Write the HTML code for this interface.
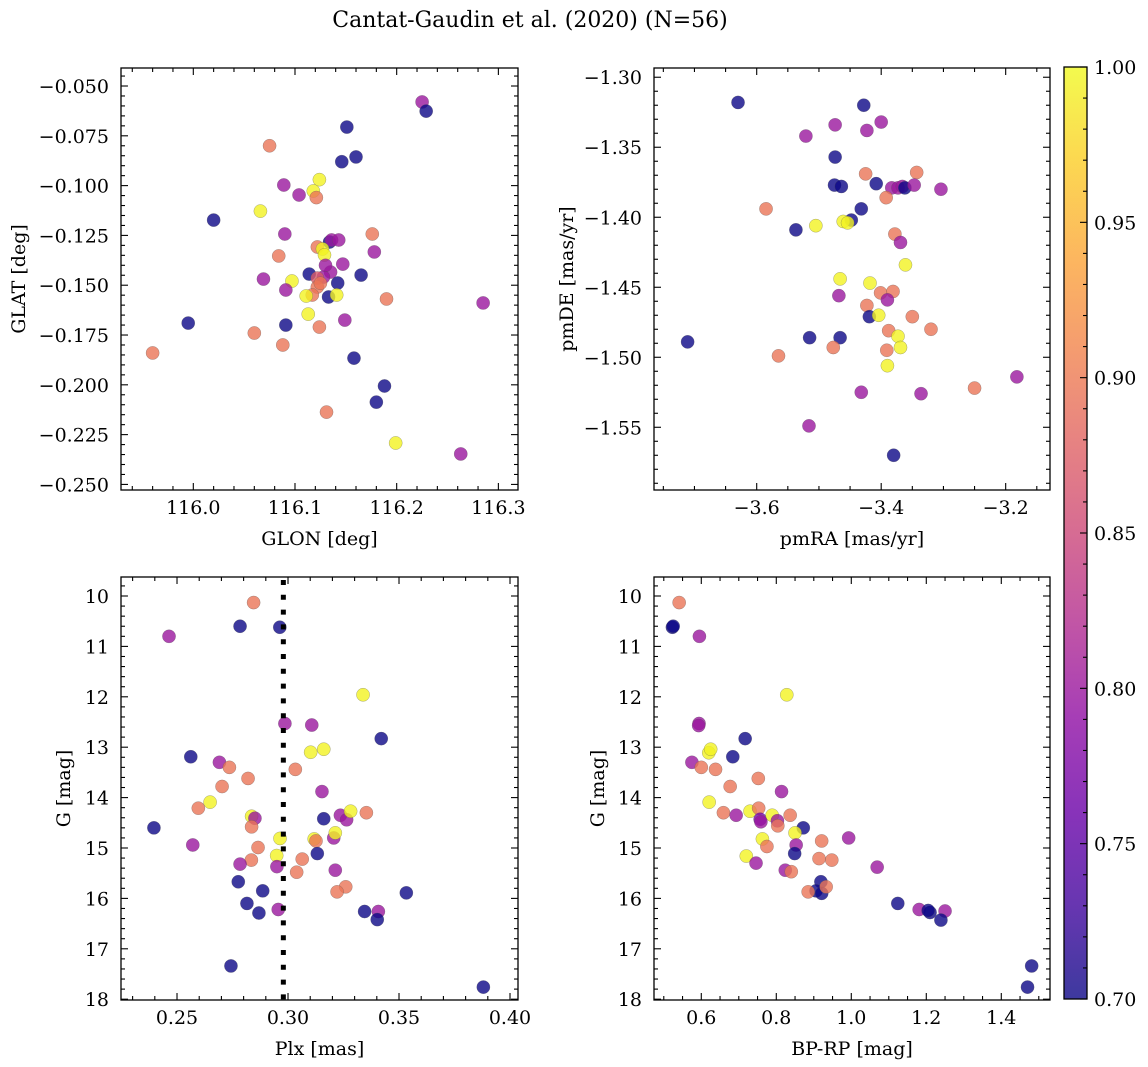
<!DOCTYPE html>
<html><head><meta charset="utf-8"><title>Cantat-Gaudin et al. (2020) (N=56)</title>
<style>html,body{margin:0;padding:0;background:#fff}svg{display:block}text{font-family:"DejaVu Serif","Liberation Serif",serif;fill:#000}</style>
</head><body>
<svg id="fig" xmlns="http://www.w3.org/2000/svg" width="1148" height="1067" viewBox="0 0 1148 1067">
<defs><linearGradient id="plasmaGrad" x1="0" y1="1" x2="0" y2="0"></linearGradient></defs>
<text x="530" y="27" text-anchor="middle" font-size="22">Cantat-Gaudin et al. (2020) (N=56)</text>
</svg>
<script>
// ---- Panel 1: GLON vs GLAT ----
const p1x=[116.225,116.229,116.151,116.075,116.146,116.160,116.124,116.089,116.118,116.121,116.104,116.066,116.020,116.090,116.176,116.134,116.136,116.143,116.122,116.127,116.129,116.178,116.084,116.147,116.114,116.135,116.128,116.122,116.165,116.142,116.069,116.097,116.122,116.091,116.117,116.111,116.133,116.141,116.190,116.285,116.113,115.995,116.149,116.091,116.060,116.124,116.088,115.960,116.158,116.188,116.180,116.131,116.199,116.263,116.125,116.130];
const p1y=[-0.058,-0.0626,-0.0706,-0.080,-0.088,-0.0856,-0.097,-0.0997,-0.1027,-0.106,-0.1047,-0.1128,-0.1173,-0.1243,-0.1243,-0.1283,-0.1273,-0.1273,-0.1308,-0.1318,-0.1348,-0.1333,-0.1353,-0.1394,-0.1444,-0.1434,-0.1459,-0.1464,-0.1449,-0.1489,-0.1469,-0.1479,-0.1509,-0.1524,-0.1549,-0.1554,-0.1559,-0.1549,-0.1569,-0.1589,-0.1645,-0.169,-0.1675,-0.170,-0.174,-0.171,-0.180,-0.184,-0.1866,-0.2006,-0.2087,-0.2137,-0.2292,-0.2347,-0.149,-0.140];
const p1c=[.80,.70,.70,.895,.70,.70,.995,.80,.995,.895,.80,.995,.70,.80,.895,.70,.80,.80,.895,.995,.995,.80,.895,.80,.70,.80,.80,.87,.70,.70,.80,.995,.895,.80,.895,.995,.70,.995,.895,.80,.995,.70,.80,.70,.895,.895,.895,.895,.70,.70,.70,.895,.995,.80,.895,.80];
const p1xTicks=[116.0,116.1,116.2,116.3];
const p1xLabels=["116.0","116.1","116.2","116.3"];
const p1yTicks=[-0.05,-0.075,-0.1,-0.125,-0.15,-0.175,-0.2,-0.225,-0.25];
const p1yLabels=["\u22120.050","\u22120.075","\u22120.100","\u22120.125","\u22120.150","\u22120.175","\u22120.200","\u22120.225","\u22120.250"];

// ---- Panel 2: pmRA vs pmDE ----
const p2x=[-3.630,-3.428,-3.474,-3.400,-3.423,-3.521,-3.474,-3.425,-3.343,-3.475,-3.464,-3.408,-3.383,-3.373,-3.366,-3.362,-3.347,-3.304,-3.392,-3.585,-3.432,-3.448,-3.461,-3.454,-3.505,-3.537,-3.378,-3.369,-3.361,-3.466,-3.418,-3.468,-3.401,-3.381,-3.390,-3.423,-3.419,-3.404,-3.350,-3.320,-3.388,-3.373,-3.369,-3.391,-3.390,-3.711,-3.515,-3.466,-3.477,-3.565,-3.182,-3.250,-3.432,-3.336,-3.516,-3.380];
const p2y=[-1.318,-1.320,-1.334,-1.332,-1.338,-1.342,-1.357,-1.369,-1.368,-1.377,-1.378,-1.376,-1.379,-1.379,-1.378,-1.379,-1.377,-1.380,-1.386,-1.394,-1.394,-1.402,-1.403,-1.404,-1.406,-1.409,-1.412,-1.418,-1.434,-1.444,-1.447,-1.456,-1.454,-1.453,-1.459,-1.463,-1.471,-1.470,-1.471,-1.480,-1.481,-1.485,-1.493,-1.495,-1.506,-1.489,-1.486,-1.486,-1.493,-1.499,-1.514,-1.522,-1.525,-1.526,-1.549,-1.570];
const p2c=[.70,.70,.80,.80,.80,.80,.70,.895,.895,.70,.70,.70,.80,.80,.80,.70,.80,.80,.895,.895,.70,.70,.995,.995,.995,.70,.895,.80,.995,.995,.995,.80,.895,.895,.80,.895,.70,.995,.895,.895,.895,.995,.995,.895,.995,.70,.70,.70,.895,.895,.80,.895,.80,.80,.80,.70];
const p2xTicks=[-3.6,-3.4,-3.2];
const p2xLabels=["\u22123.6","\u22123.4","\u22123.2"];
const p2yTicks=[-1.30,-1.35,-1.40,-1.45,-1.50,-1.55];
const p2yLabels=["\u22121.30","\u22121.35","\u22121.40","\u22121.45","\u22121.50","\u22121.55"];

// ---- Panel 3: Plx vs G ----
const p3x=[0.2845,0.2784,0.2963,0.2464,0.3338,0.2986,0.3107,0.3420,0.2562,0.2691,0.3102,0.3161,0.2736,0.3033,0.2820,0.2703,0.3153,0.2649,0.2596,0.2836,0.2851,0.2836,0.2396,0.3161,0.3236,0.3264,0.3282,0.3353,0.2964,0.3118,0.3126,0.3206,0.3213,0.2571,0.2865,0.2949,0.3132,0.3064,0.2835,0.2784,0.2950,0.3039,0.3213,0.2776,0.2886,0.3260,0.3221,0.3533,0.2815,0.2869,0.2956,0.3345,0.3407,0.3402,0.2743,0.3880];
const p3y=[10.13,10.60,10.62,10.80,11.96,12.53,12.56,12.83,13.19,13.30,13.10,13.04,13.40,13.44,13.62,13.78,13.88,14.09,14.21,14.37,14.41,14.58,14.60,14.42,14.35,14.44,14.27,14.30,14.81,14.82,14.86,14.80,14.70,14.94,14.99,15.15,15.11,15.22,15.24,15.32,15.37,15.48,15.44,15.67,15.85,15.77,15.87,15.89,16.10,16.29,16.22,16.26,16.26,16.42,17.34,17.76];
const p3c=[.895,.70,.70,.80,.995,.80,.80,.70,.70,.80,.995,.995,.895,.895,.895,.895,.80,.995,.895,.995,.80,.895,.70,.70,.80,.80,.995,.895,.995,.995,.895,.80,.995,.80,.895,.995,.70,.895,.895,.80,.80,.895,.80,.70,.70,.895,.895,.70,.70,.70,.80,.70,.80,.70,.70,.70];
const p3xTicks=[0.25,0.30,0.35,0.40];
const p3xLabels=["0.25","0.30","0.35","0.40"];
const gTicks=[10,11,12,13,14,15,16,17,18];
const gLabels=["10","11","12","13","14","15","16","17","18"];
const plxReference=0.2979;

// ---- Panel 4: BP-RP vs G ----
const p4x=[0.541,0.523,0.525,0.595,0.828,0.594,0.593,0.717,0.684,0.575,0.620,0.625,0.600,0.752,0.638,0.677,0.814,0.621,0.659,0.693,0.730,0.753,0.757,0.789,0.803,0.804,0.872,0.850,0.763,0.775,0.853,0.921,0.993,0.849,0.720,0.746,0.914,0.948,0.824,0.840,1.069,0.919,0.906,0.921,0.885,0.933,1.124,1.181,1.210,1.205,1.250,1.239,1.481,1.470,0.759,0.837];
const p4y=[10.13,10.62,10.60,10.80,11.96,12.53,12.57,12.83,13.19,13.30,13.11,13.04,13.40,13.62,13.44,13.78,13.88,14.09,14.30,14.35,14.27,14.21,14.43,14.35,14.46,14.56,14.60,14.70,14.82,14.97,14.94,14.86,14.80,15.11,15.16,15.30,15.21,15.24,15.44,15.47,15.38,15.67,15.85,15.90,15.87,15.77,16.10,16.22,16.28,16.24,16.25,16.43,17.34,17.76,14.48,14.35];
const p4c=[.895,.70,.70,.80,.995,.80,.80,.70,.70,.80,.995,.995,.895,.895,.895,.895,.80,.995,.895,.80,.995,.895,.77,.995,.80,.895,.70,.995,.995,.895,.80,.895,.80,.70,.995,.80,.895,.895,.80,.895,.80,.70,.70,.70,.895,.895,.70,.80,.70,.70,.80,.70,.70,.70,.80,.895];
const p4xTicks=[0.6,0.8,1.0,1.2,1.4];
const p4xLabels=["0.6","0.8","1.0","1.2","1.4"];

// ---- Colorbar ----
const cbTicks=[0.70,0.75,0.80,0.85,0.90,0.95,1.00];
const cbLabels=["0.70","0.75","0.80","0.85","0.90","0.95","1.00"];
const cbMin=0.70, cbMax=1.00;

const NS="http://www.w3.org/2000/svg";
const svg=document.getElementById('fig');
const FS=19;
const PLASMA=["#0d0887","#41049d","#6a00a8","#8f0da4","#b12a90","#cc4778","#e16462","#f2844b","#fca636","#fcce25","#f0f921"];
function hex(h){return [parseInt(h.substr(1,2),16),parseInt(h.substr(3,2),16),parseInt(h.substr(5,2),16)];}
function cmap(v){let t=(v-cbMin)/(cbMax-cbMin);t=Math.max(0,Math.min(1,t));const s=t*10;const i=Math.min(9,Math.floor(s));const f=s-i;const a=hex(PLASMA[i]),b=hex(PLASMA[i+1]);return 'rgb('+[0,1,2].map(k=>Math.round(a[k]+(b[k]-a[k])*f)).join(',')+')';}
function mk(tag,attrs,parent){const e=document.createElementNS(NS,tag);for(const k in attrs)e.setAttribute(k,attrs[k]);(parent||svg).appendChild(e);return e;}

function panel(id,box,xlim,ylim,xs,ys,cs,xT,xL,yT,yL,xMinor,yMinor,xlabel,ylabel,ylabX){
  const g=mk('g',{});
  
  
  const sx=v=>box.l+(v-xlim[0])/(xlim[1]-xlim[0])*(box.r-box.l);
  const sy=v=>box.b-(v-ylim[0])/(ylim[1]-ylim[0])*(box.b-box.t);
  const pts=mk('g',{},g);
  
  
  for(let i=0;i<xs.length;i++){
    const c=mk('circle',{cx:sx(xs[i]),cy:sy(ys[i]),r:6.6,fill:cmap(cs[i]),'fill-opacity':0.8,stroke:'#555','stroke-opacity':0.5,'stroke-width':0.5},pts);
    
    
  }
  const ax=mk('g',{stroke:'#000','stroke-width':1.1},g);
  
  
  const lo=Math.min(xlim[0],xlim[1]),hi=Math.max(xlim[0],xlim[1]);
  const n0=Math.ceil(lo/xMinor-1e-6),n1=Math.floor(hi/xMinor+1e-6);
  for(let n=n0;n<=n1;n++){const v=n*xMinor;const maj=xT.some(t=>Math.abs(t-v)<xMinor/10);const L=maj?7:4;const x=sx(v);
    mk('line',{x1:x,x2:x,y1:box.b,y2:box.b-L},ax);mk('line',{x1:x,x2:x,y1:box.t,y2:box.t+L},ax);}
  const ylo=Math.min(ylim[0],ylim[1]),yhi=Math.max(ylim[0],ylim[1]);
  const m0=Math.ceil(ylo/yMinor-1e-6),m1=Math.floor(yhi/yMinor+1e-6);
  for(let n=m0;n<=m1;n++){const v=n*yMinor;const maj=yT.some(t=>Math.abs(t-v)<yMinor/10);const L=maj?7:4;const y=sy(v);
    mk('line',{x1:box.l,x2:box.l+L,y1:y,y2:y},ax);mk('line',{x1:box.r,x2:box.r-L,y1:y,y2:y},ax);}
  const fr=mk('rect',{x:box.l,y:box.t,width:box.r-box.l,height:box.b-box.t,fill:'none',stroke:'#000','stroke-width':1.3},g);
  
  
  for(let i=0;i<xT.length;i++){const t=mk('text',{x:sx(xT[i]),y:box.b+24,'text-anchor':'middle','font-size':FS},g);t.textContent=xL[i];
    
    }
  for(let i=0;i<yT.length;i++){const t=mk('text',{x:box.l-12,y:sy(yT[i])+7,'text-anchor':'end','font-size':FS},g);t.textContent=yL[i];
    
    }
  const xl=mk('text',{x:(box.l+box.r)/2,y:box.b+55,'text-anchor':'middle','font-size':FS},g);xl.textContent=xlabel;
  
  
  const cy=(box.t+box.b)/2;
  const yl=mk('text',{x:ylabX,y:cy,'text-anchor':'middle','font-size':FS,transform:'rotate(-90 '+ylabX+' '+cy+')'},g);yl.textContent=ylabel;
  
  
  return {sx,sy,g};
}

panel('glon-glat',{l:121,r:518,t:68,b:490},[115.9289,116.3193],[-0.2528,-0.04096],p1x,p1y,p1c,p1xTicks,p1xLabels,p1yTicks,p1yLabels,0.02,0.005,'GLON [deg]','GLAT [deg]',25);
panel('pm',{l:654,r:1050,t:68,b:490},[-3.765,-3.1288],[-1.5948,-1.2934],p2x,p2y,p2c,p2xTicks,p2xLabels,p2yTicks,p2yLabels,0.05,0.01,'pmRA [mas/yr]','pmDE [mas/yr]',573);
const P3=panel('plx-g',{l:121,r:518,t:577,b:1000},[0.22477,0.40360],[18.016,9.623],p3x,p3y,p3c,p3xTicks,p3xLabels,gTicks,gLabels,0.01,0.2,'Plx [mas]','G [mag]',70);
panel('cmd',{l:654,r:1050,t:577,b:1000},[0.4739,1.5299],[18.016,9.623],p4x,p4y,p4c,p4xTicks,p4xLabels,gTicks,gLabels,0.05,0.2,'BP-RP [mag]','G [mag]',604);

const vl=mk('line',{x1:P3.sx(plxReference),x2:P3.sx(plxReference),y1:580,y2:1000,stroke:'#000','stroke-width':5,'stroke-dasharray':'5,9.8'},P3.g);



// colorbar
const grad=document.getElementById('plasmaGrad');
PLASMA.forEach((c,i)=>{mk('stop',{offset:(i*10)+'%','stop-color':c,'stop-opacity':0.8},grad);});
const cb={l:1064,r:1087,t:67,b:999};
const cbg=mk('g',{});


mk('rect',{x:cb.l,y:cb.t,width:cb.r-cb.l,height:cb.b-cb.t,fill:'url(#plasmaGrad)',stroke:'#000','stroke-width':1.3},cbg);
const cy=v=>cb.b-(v-cbMin)/(cbMax-cbMin)*(cb.b-cb.t);
for(let n=70;n<=100;n++){const v=n/100;const maj=n%5===0;const y=cy(v);mk('line',{x1:cb.r,x2:cb.r-(maj?7:4),y1:y,y2:y,stroke:'#000','stroke-width':1.1},cbg);}
for(let i=0;i<cbTicks.length;i++){const t=mk('text',{x:cb.r+7,y:cy(cbTicks[i])+7,'font-size':FS},cbg);t.textContent=cbLabels[i];
  
  }
</script>
</body></html>
